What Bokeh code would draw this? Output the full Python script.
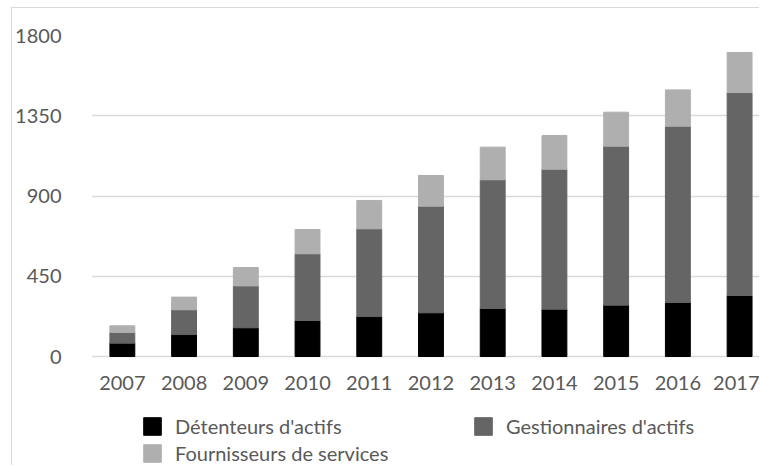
from bokeh.plotting import figure
from bokeh.models import Range1d, FixedTicker, ColumnDataSource
from bokeh.embed import file_html
from bokeh.resources import INLINE

years = [2007, 2008, 2009, 2010, 2011, 2012, 2013, 2014, 2015, 2016, 2017]
detenteurs = [75, 123, 161, 202, 224, 245, 269, 265, 288, 303, 342]
gestionnaires = [60, 139, 235, 374, 492, 598, 722, 785, 891, 988, 1138]
fournisseurs = [37, 71, 103, 136, 159, 172, 183, 189, 191, 204, 225]
series_names = ["Détenteurs d'actifs", "Gestionnaires d'actifs", "Fournisseurs de services"]
y_ticks = [0, 450, 900, 1350, 1800]
colors = ["#000000", "#656565", "#afafaf"]

FONT = "Lato"
TXT = "#595959"
FS = "20px"

src = ColumnDataSource(dict(year=years, det=detenteurs, gest=gestionnaires, four=fournisseurs))

# frame: 1800 units span 321 px; frame continues 110 px below the zero line
units_per_px = 1800 / 321
p = figure(width=748, height=458,
           x_range=Range1d(2006.5, 2006.5 + 672 / 62),
           y_range=Range1d(-110 * units_per_px, 1800),
           output_backend="svg", toolbar_location=None,
           min_border_left=76, min_border_right=0, min_border_top=27, min_border_bottom=0)
p.styles = {"margin-left": "11px", "margin-top": "7px",
            "border-left": "1px solid #d9d9d9", "border-top": "1px solid #d9d9d9"}
p.outline_line_color = None
p.background_fill_color = "white"
p.border_fill_color = "white"

p.vbar_stack(["det", "gest", "four"], x="year", width=25 / 62, color=colors,
             source=src, legend_label=series_names)

p.xgrid.grid_line_color = None
p.ygrid.grid_line_color = "#d9d9d9"
p.ygrid.grid_line_width = 1.5
p.ygrid.ticker = FixedTicker(ticks=y_ticks)

p.xaxis.ticker = FixedTicker(ticks=years)
p.xaxis.fixed_location = 0
p.yaxis.ticker = FixedTicker(ticks=y_ticks)
for ax in (p.xaxis[0], p.yaxis[0]):
    ax.axis_line_color = None
    ax.major_tick_line_color = None
    ax.minor_tick_line_color = None
    ax.major_tick_out = 0
    ax.major_tick_in = 0
    ax.minor_tick_out = 0
    ax.minor_tick_in = 0
    ax.major_label_text_font = FONT
    ax.major_label_text_font_size = FS
    ax.major_label_text_color = TXT
p.xaxis.major_label_standoff = 19
p.yaxis.major_label_standoff = 30

lg = p.legend[0]
lg.orientation = "horizontal"
lg.ncols = 2
lg.location = (50, 1)
lg.label_text_font = FONT
lg.label_text_font_size = FS
lg.label_text_color = TXT
lg.glyph_width = 22
lg.glyph_height = 22
lg.label_standoff = 12
lg.label_width = 294
lg.label_height = 22
lg.spacing = 3
lg.padding = 0
lg.margin = 0
lg.border_line_color = None
lg.background_fill_alpha = 0

open("out.html", "w").write(file_html(p, INLINE))
